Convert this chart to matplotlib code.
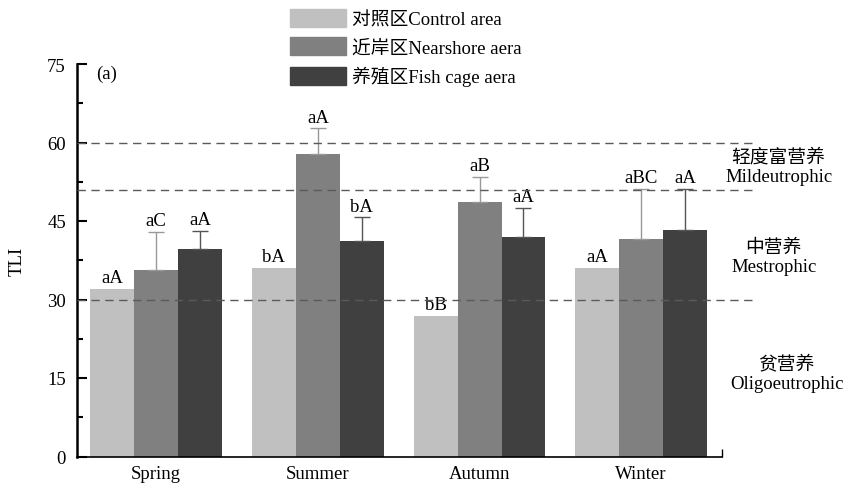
import numpy as np
import matplotlib
matplotlib.use('Agg')
import matplotlib.pyplot as plt
from matplotlib.patches import Patch

plt.rcParams['font.family'] = ['Liberation Serif', 'Noto Sans CJK SC']
plt.rcParams['font.size'] = 13.5

seasons = ['Spring', 'Summer', 'Autumn', 'Winter']
series_names = ['对照区Control area', '近岸区Nearshore aera', '养殖区Fish cage aera']

# mean TLI per season for each area
control = [32.1, 36.1, 26.9, 36.0]
nearshore = [35.6, 57.8, 48.7, 41.5]
fishcage = [39.6, 41.1, 41.9, 43.2]

# upper error (sd) per season; control area has no error bar drawn
control_err = [0, 0, 0, 0]
nearshore_err = [7.3, 4.9, 4.7, 9.7]
fishcage_err = [3.5, 4.6, 5.6, 7.9]

control_lab = ['aA', 'bA', 'bB', 'aA']
nearshore_lab = ['aC', 'aA', 'aB', 'aBC']
fishcage_lab = ['aA', 'bA', 'aA', 'aA']

thresholds = [30, 51, 60]
zones = [('轻度富营养', 'Mildeutrophic'), ('中营养', 'Mestrophic'), ('贫营养', 'Oligoeutrophic')]
zone_x = [3.85, 3.82, 3.9]
zone_y = [55.5, 38.2, 15.9]

colors = ['#c0c0c0', '#808080', '#404040']
err_colors = ['#c0c0c0', '#999999', '#555555']

fig = plt.figure(figsize=(8.46, 4.85), dpi=100)
ax = fig.add_axes([77/846, 1-457.5/485, (722-77)/846, (457.5-65)/485])

x = np.arange(len(seasons))
w = 0.272
data = [(control, control_err, control_lab),
        (nearshore, nearshore_err, nearshore_lab),
        (fishcage, fishcage_err, fishcage_lab)]

for i, (vals, errs, labs) in enumerate(data):
    xs = x + (i - 1) * w
    ax.bar(xs, vals, width=w, color=colors[i], zorder=2, label=series_names[i])
    for xi, v, e, lab in zip(xs, vals, errs, labs):
        if e > 0:
            ax.errorbar(xi, v, yerr=[[0], [e]], fmt='none', ecolor=err_colors[i],
                        elinewidth=1, capsize=5.5, capthick=1, zorder=3)
        ax.annotate(lab, (xi, v + e), xytext=(0, 2), textcoords='offset points',
                    ha='center', va='bottom')

# trophic state boundaries
for t in thresholds:
    ax.hlines(t, -0.49, 3.69, colors='#5a5a5a', linestyles=(0, (6, 4)),
              linewidth=1, zorder=4, clip_on=False)

for (cn, en), zx, zy in zip(zones, zone_x, zone_y):
    ax.text(zx, zy, cn + '\n' + en, ha='center', va='center', linespacing=1.2)

ax.set_xlim(-0.49, 3.5)
ax.set_ylim(0, 75)
ax.set_yticks([0, 15, 30, 45, 60, 75])
ax.set_yticks([7.5, 22.5, 37.5, 52.5, 67.5], minor=True)
ax.set_xticks(x)
ax.set_xticklabels(seasons)
ax.set_xticks([3.5], minor=True)
ax.tick_params(axis='x', which='major', length=0, pad=6)
ax.tick_params(axis='x', which='minor', direction='in', length=6, width=1)
ax.tick_params(axis='y', which='major', direction='in', length=7, width=1.5, pad=8)
ax.tick_params(axis='y', which='minor', direction='in', length=4, width=1.5)
ax.spines['top'].set_visible(False)
ax.spines['right'].set_visible(False)
ax.spines['left'].set_linewidth(1.8)
ax.spines['bottom'].set_linewidth(1.2)
ax.set_ylabel('TLI')
ax.yaxis.set_label_coords(-0.079, 0.5)
ax.text(0.03, 0.975, '(a)', transform=ax.transAxes, ha='left', va='center')

handles = [Patch(color=c) for c in colors]
fig.legend(handles, series_names, loc='upper left', bbox_to_anchor=(290/846, 1-10/485),
           frameon=False, borderpad=0, handlelength=3.0, handleheight=1.1,
           handletextpad=0.3, labelspacing=0.48, borderaxespad=0)

fig.savefig('out.png', dpi=100)
